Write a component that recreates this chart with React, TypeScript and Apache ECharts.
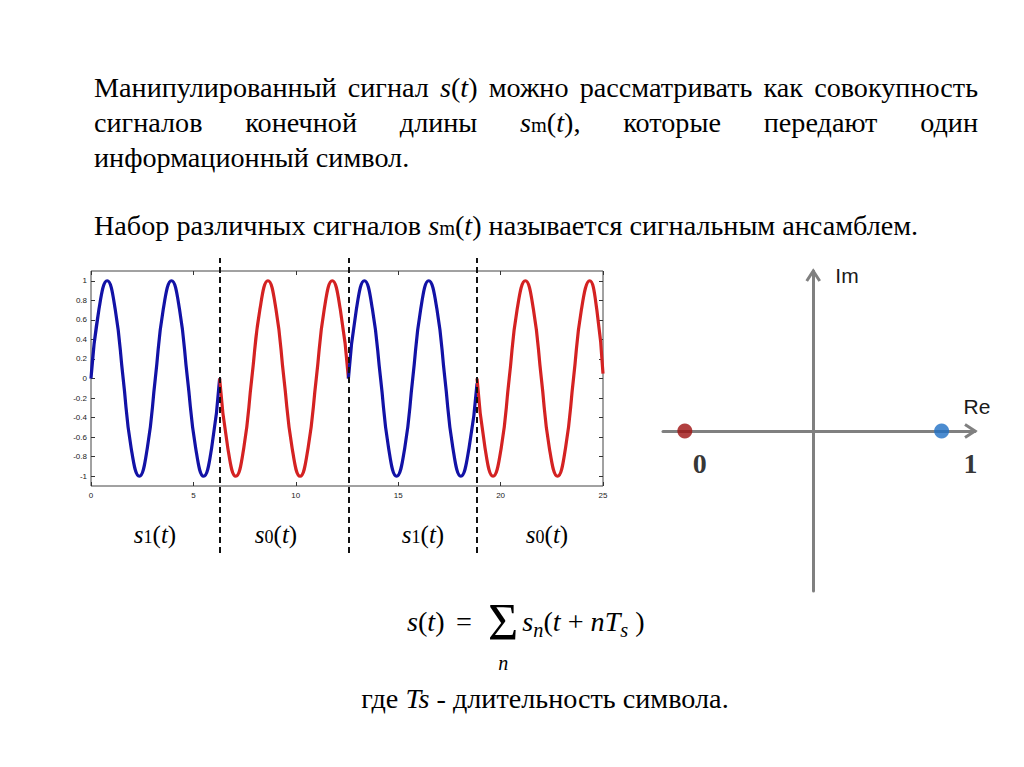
import React, { useEffect, useRef } from 'react';
import * as echarts from 'echarts';

// ---------------- data ----------------
// symbol boundaries (dashed lines), time units
const symbolBounds = [6.28, 12.57, 18.85];

// signal samples (time, amplitude)
const blue1T = [0, 0.39, 0.79, 1.18, 1.57, 1.96, 2.36, 2.75, 3.14, 3.53, 3.93, 4.32, 4.71, 5.11, 5.5, 5.89, 6.28];
const blue1V = [0, 0.71, 1, 0.71, 0, -0.71, -1, -0.71, 0, 0.71, 1, 0.71, 0, -0.71, -1, -0.71, 0];
const red1T = [6.28, 6.68, 7.07, 7.46, 7.85, 8.25, 8.64, 9.03, 9.42, 9.82, 10.21, 10.6, 11.0, 11.39, 11.78, 12.17, 12.57];
const red1V = [0, -0.71, -1, -0.71, 0, 0.71, 1, 0.71, 0, -0.71, -1, -0.71, 0, 0.71, 1, 0.71, 0];
const blue2T = [12.57, 12.96, 13.35, 13.74, 14.14, 14.53, 14.92, 15.32, 15.71, 16.1, 16.49, 16.89, 17.28, 17.67, 18.06, 18.46, 18.85];
const blue2V = [0, 0.71, 1, 0.71, 0, -0.71, -1, -0.71, 0, 0.71, 1, 0.71, 0, -0.71, -1, -0.71, -0.05];
const red2T = [18.85, 19.24, 19.63, 20.03, 20.42, 20.81, 21.21, 21.6, 21.99, 22.38, 22.78, 23.17, 23.56, 23.95, 24.35, 24.7, 25];
const red2V = [0, -0.71, -1, -0.71, 0, 0.71, 1, 0.71, 0, -0.71, -1, -0.71, 0, 0.71, 1, 0.7, 0.05];

const yTicks = [-1, -0.8, -0.6, -0.4, -0.2, 0, 0.2, 0.4, 0.6, 0.8, 1];

// constellation
const constRe = [-1, 1];
const constIm = [0, 0];
const constBits = ['0', '1'];
const constColors = ['#9e1010', '#1f6fc4'];

// symbol labels under the waveform
const segSubs = ['1', '0', '1', '0'];

// ---------------- text content ----------------
type Piece = { t: string; k: string };
const w = (s: string): Piece[] => [{ t: s, k: 'n' }];
const S_T: Piece[] = [{ t: 's', k: 'i' }, { t: '(', k: 'n' }, { t: 't', k: 'i' }, { t: ')', k: 'n' }];
const SM_T = (tail: string): Piece[] => [
  { t: 's', k: 'i' }, { t: 'm', k: 'sm' }, { t: '(', k: 'n' }, { t: 't', k: 'i' }, { t: ')' + tail, k: 'n' },
];
const line1Words: Piece[][] = [w('Манипулированный'), w('сигнал'), S_T, w('можно'), w('рассматривать'), w('как'), w('совокупность')];
const line2Words: Piece[][] = [w('сигналов'), w('конечной'), w('длины'), SM_T(','), w('которые'), w('передают'), w('один')];
const line3Words: Piece[][] = [w('информационный'), w('символ.')];
const para2Words: Piece[][] = [w('Набор'), w('различных'), w('сигналов'), SM_T(''), w('называется'), w('сигнальным'), w('ансамблем.')];
const whereWords: Piece[][] = [w('где'), [{ t: 'Ts', k: 'i' }], w('-'), w('длительность'), w('символа.')];

const SERIF = 'Times New Roman, Liberation Serif, DejaVu Serif, serif';
const SANS = 'Arial, Liberation Sans, sans-serif';
const CENTRAL = 0.3375; // central baseline offset of Liberation Serif (em)

let measureCtx: CanvasRenderingContext2D | null = null;
function measure(text: string, style: string, size: number, weight = 'normal'): number {
  if (!measureCtx) measureCtx = document.createElement('canvas').getContext('2d');
  measureCtx!.font = `${style} ${weight} ${size}px ${SERIF}`;
  return measureCtx!.measureText(text).width;
}

const r1 = (v: number) => Math.round(v * 10) / 10;

function pieceStyle(k: string, fs: number) {
  if (k === 'i') return { size: fs, style: 'italic', dy: 0 };
  if (k === 'sm') return { size: r1(fs * 0.72), style: 'normal', dy: 0 };
  if (k === 'sub') return { size: r1(fs * 0.72), style: 'italic', dy: fs * 0.22 };
  return { size: fs, style: 'normal', dy: 0 };
}
const pieceWidth = (p: Piece, fs: number) => {
  const st = pieceStyle(p.k, fs);
  return measure(p.t, st.style, st.size);
};
const wordWidth = (word: Piece[], fs: number) => word.reduce((s, p) => s + pieceWidth(p, fs), 0);

function textEl(text: string, x: number, y: number, size: number, style: string, opts: any = {}) {
  return {
    type: 'text',
    x,
    y,
    z: 100,
    silent: true,
    style: {
      text,
      fontFamily: opts.family || SERIF,
      fontSize: size,
      fontStyle: style,
      fontWeight: opts.weight || 'normal',
      fill: opts.fill || '#000',
      align: opts.align || 'left',
      verticalAlign: 'middle',
    },
  };
}

function runElements(pieces: Piece[], x: number, baseline: number, fs: number, out: any[]) {
  let cx = x;
  for (const p of pieces) {
    const st = pieceStyle(p.k, fs);
    out.push(textEl(p.t, cx, baseline + st.dy - CENTRAL * st.size, st.size, st.style));
    cx += measure(p.t, st.style, st.size);
  }
  return cx;
}

function lineElements(words: Piece[][], x0: number, x1: number | null, baseline: number, fs: number, out: any[]) {
  const widths = words.map((wd) => wordWidth(wd, fs));
  const total = widths.reduce((a, b) => a + b, 0);
  const space = measure(' ', 'normal', fs);
  const gap = x1 !== null && words.length > 1 ? (x1 - x0 - total) / (words.length - 1) : space;
  let x = x0;
  words.forEach((wd, i) => {
    runElements(wd, x, baseline, fs, out);
    x += widths[i] + gap;
  });
  return total + gap * (words.length - 1);
}

function buildOption() {
  const tickStyle = { color: '#333', width: 1 };
  const lbl = { fontSize: 8, color: '#222', fontFamily: SANS };
  const seg = (T: number[], V: number[], color: string) => ({
    type: 'line',
    xAxisIndex: 0,
    yAxisIndex: 0,
    data: T.map((t, i) => [t, V[i]]),
    smooth: 0.5,
    showSymbol: false,
    symbol: 'none',
    lineStyle: { color, width: 3.2 },
    silent: true,
  });
  return {
    animation: false,
    backgroundColor: '#ffffff',
    grid: [
      { left: 91, top: 271, width: 512, height: 215, show: true, borderColor: '#444', borderWidth: 1, backgroundColor: 'transparent' },
      { left: 663, top: 271, width: 312, height: 320 },
      { left: 91, top: 258, width: 512, height: 295 },
    ],
    xAxis: [
      {
        gridIndex: 0, type: 'value', min: 0, max: 25, interval: 5, position: 'bottom',
        axisLine: { show: false, onZero: false },
        axisTick: { inside: true, length: 4, lineStyle: tickStyle },
        axisLabel: { ...lbl, margin: 5, showMinLabel: true, showMaxLabel: true },
        splitLine: { show: false },
      },
      {
        gridIndex: 0, type: 'value', min: 0, max: 25, interval: 5, position: 'top',
        axisLine: { show: false, onZero: false },
        axisTick: { inside: true, length: 4, lineStyle: tickStyle },
        axisLabel: { show: false },
        splitLine: { show: false },
      },
      {
        gridIndex: 1, type: 'value', min: -1.17, max: 1.26,
        axisLine: { onZero: true, lineStyle: { color: '#808080', width: 3 } },
        axisTick: { show: false }, axisLabel: { show: false }, splitLine: { show: false },
      },
      { gridIndex: 2, type: 'value', min: 0, max: 25, show: false },
    ],
    yAxis: [
      {
        gridIndex: 0, type: 'value', min: -1.1, max: 1.1, position: 'left',
        axisLine: { show: false, onZero: false },
        axisTick: { inside: true, length: 4, lineStyle: tickStyle, customValues: yTicks },
        axisLabel: { ...lbl, margin: 4, customValues: yTicks },
        splitLine: { show: false },
      },
      {
        gridIndex: 0, type: 'value', min: -1.1, max: 1.1, position: 'right',
        axisLine: { show: false, onZero: false },
        axisTick: { inside: true, length: 4, lineStyle: tickStyle, customValues: yTicks },
        axisLabel: { show: false },
        splitLine: { show: false },
      },
      {
        gridIndex: 1, type: 'value', min: -1.25, max: 1.25,
        axisLine: { onZero: true, lineStyle: { color: '#808080', width: 3 } },
        axisTick: { show: false }, axisLabel: { show: false }, splitLine: { show: false },
      },
      { gridIndex: 2, type: 'value', min: 0, max: 1, show: false },
    ],
    series: [
      seg(blue1T, blue1V, '#1212a6'),
      seg(red1T, red1V, '#d42222'),
      seg(blue2T, blue2V, '#1212a6'),
      seg(red2T, red2V, '#d42222'),
      {
        type: 'scatter', xAxisIndex: 3, yAxisIndex: 3, data: [[0, 0.5]], symbolSize: 0, silent: true,
        markLine: {
          silent: true, symbol: ['none', 'none'], label: { show: false },
          lineStyle: { color: '#111', width: 2, type: [6, 4] },
          emphasis: { disabled: true },
          data: symbolBounds.map((b) => ({ xAxis: b })),
        },
      },
      {
        type: 'scatter', xAxisIndex: 2, yAxisIndex: 2, symbolSize: 15, silent: true, z: 5,
        data: constRe.map((re, i) => ({
          value: [re, constIm[i]],
          name: constBits[i],
          itemStyle: { color: constColors[i] },
          label: { offset: i === 0 ? [15, 32] : [29, 32] },
        })),
        label: {
          show: true, position: 'inside', formatter: '{b}',
          fontFamily: SERIF, fontWeight: 'bold', fontSize: 28, color: '#000',
        },
      },
    ],
  };
}

function buildGraphic(chart: any) {
  const out: any[] = [];
  // main paragraph font size, fitted to paragraph 2 width
  const target2 = 918 - 94;
  const w28 = lineElements(para2Words, 0, null, 0, 28, []);
  let fs = r1((28 * target2) / w28);
  fs = Math.max(24, Math.min(32, fs));

  lineElements(line1Words, 94, 978, 97, fs, out);
  lineElements(line2Words, 94, 978, 132, fs, out);
  lineElements(line3Words, 94, null, 167, fs, out);
  lineElements(para2Words, 94, null, 235, fs, out);

  // symbol labels s1(t), s0(t)
  const segCenters = [155, 276, 423, 547];
  const lfs = 25;
  segSubs.forEach((sub, i) => {
    const pcs: Piece[] = [{ t: 's', k: 'i' }, { t: sub, k: 'sm' }, { t: '(', k: 'n' }, { t: 't', k: 'i' }, { t: ')', k: 'n' }];
    const wd = wordWidth(pcs, lfs);
    runElements(pcs, segCenters[i] - wd / 2, 543, lfs, out);
  });

  // formula  s(t) = Σ s_n(t + nT_s )
  const ffs = fs;
  const fb = 631;
  runElements([{ t: 's', k: 'i' }, { t: '(', k: 'n' }, { t: 't', k: 'i' }, { t: ')', k: 'n' }], 407, fb, ffs, out);
  runElements([{ t: '=', k: 'n' }], 456, fb, ffs, out);
  const sigFs = 52;
  const sigW = measure('Σ', 'normal', sigFs);
  const sigX = 488;
  out.push(textEl('Σ', sigX, 640 - CENTRAL * sigFs, sigFs, 'normal'));
  out.push(textEl('n', sigX + sigW / 2, 670 - CENTRAL * 20, 20, 'italic', { align: 'center' }));
  runElements(
    [
      { t: 's', k: 'i' }, { t: 'n', k: 'sub' }, { t: '(', k: 'n' }, { t: 't', k: 'i' }, { t: ' + ', k: 'n' },
      { t: 'nT', k: 'i' }, { t: 's', k: 'sub' }, { t: ' )', k: 'n' },
    ],
    sigX + sigW + 4, fb, ffs, out,
  );

  // "где Ts - длительность символа."
  const ww = lineElements(whereWords, 0, null, 0, fs, []);
  lineElements(whereWords, 545 - ww / 2, null, 708, fs, out);

  // constellation arrows and axis names
  const tipX = chart.convertToPixel({ gridIndex: 1 }, [1.26, 0]);
  const tipY = chart.convertToPixel({ gridIndex: 1 }, [0, 1.25]);
  const gray = '#808080';
  out.push({
    type: 'polyline', z: 50, silent: true,
    shape: { points: [[tipX[0] - 10, tipX[1] - 6.5], [tipX[0], tipX[1]], [tipX[0] - 10, tipX[1] + 6.5]] },
    style: { stroke: gray, lineWidth: 3, fill: null, lineJoin: 'miter' },
  });
  out.push({
    type: 'polyline', z: 50, silent: true,
    shape: { points: [[tipY[0] - 6.5, tipY[1] + 10], [tipY[0], tipY[1]], [tipY[0] + 6.5, tipY[1] + 10]] },
    style: { stroke: gray, lineWidth: 3, fill: null, lineJoin: 'miter' },
  });
  out.push(textEl('Re', 977, 406, 21, 'normal', { family: SANS, fill: '#1a1a1a', align: 'center' }));
  out.push(textEl('Im', 847, 275, 21, 'normal', { family: SANS, fill: '#1a1a1a', align: 'center' }));
  return out;
}

export default function App() {
  const ref = useRef<HTMLDivElement>(null);
  useEffect(() => {
    const chart = echarts.init(ref.current!, null, { renderer: 'svg' });
    chart.setOption(buildOption() as any);
    chart.setOption({ graphic: { elements: buildGraphic(chart) } } as any);
    return () => chart.dispose();
  }, []);
  return (
    <div
      ref={ref}
      style={{ position: 'absolute', left: 0, top: 0, width: 1024, height: 767, background: '#ffffff' }}
    />
  );
}
